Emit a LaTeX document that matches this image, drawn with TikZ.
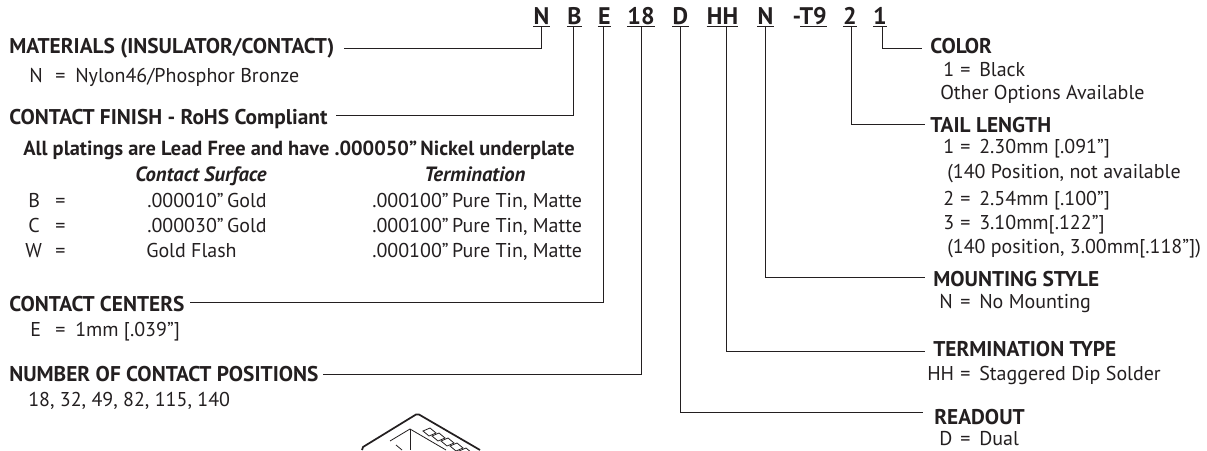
\documentclass[tikz,border=0pt]{standalone}
\usepackage{fontspec}
\setmainfont{PT Sans}
\usetikzlibrary{positioning}
\definecolor{inkgray}{HTML}{231F20}

\begin{document}
\begin{tikzpicture}[
    x=0.75pt, y=-0.75pt,
    every node/.style={text=inkgray, inner sep=0pt},
    partcode/.style={font=\fontsize{18}{20}\selectfont\bfseries, anchor=base, inner ysep=1.5pt},
    headlabel/.style={font=\fontsize{16}{18}\selectfont\bfseries, anchor=base west, text height=10.5pt, text depth=3pt},
    notelabel/.style={font=\fontsize{15.3}{17}\selectfont\bfseries, anchor=base west},
    bodylabel/.style={font=\fontsize{15}{17}\selectfont, anchor=base west},
    headital/.style={font=\fontsize{15.5}{17}\selectfont\bfseries\itshape, anchor=base west},
    leader/.style={draw=inkgray, line width=0.65pt},
    underbar/.style={draw=inkgray, line width=0.8pt}
]
\useasboundingbox (0,0) rectangle (1207,450);

% --- MACRO: KEY = VALUE ROW ---
\newcommand{\drawoption}[7]{
    \node[bodylabel] (#1k) at (#4,#2) {#3};
    \node[bodylabel] (#1e) at (#5,#2) {=};
    \node[bodylabel] (#1v) at (#6,#2) {#7};
}

% --- PART NUMBER ---
\node[partcode] (cmat) at (541.5,24) {N};
\node[partcode] (cfin) at (574.5,24) {B};
\node[partcode] (ccen) at (604.5,24) {E};
\node[partcode] (cpos) at (641,24) {18};
\node[partcode] (cread) at (680.5,24) {D};
\node[partcode] (cterm) at (722.5,24) {HH};
\node[partcode] (cmount) at (765.5,24) {N};
\node[partcode, anchor=base east] (cdash) at (827,24) {-T9};
\node[partcode] (ctail) at (850,24) {2};
\node[partcode] (ccol) at (880,24) {1};

\foreach \n in {cmat,cfin,ccen,cpos,cread,cterm,cmount,ctail,ccol}
    \draw[underbar] (\n.south west) -- (\n.south east);
\draw[underbar] ([xshift=-20pt]cdash.south east) -- (cdash.south east);

% --- LEFT COLUMN ---
\node[headlabel] (lmat) at (9,53) {MATERIALS (INSULATOR/CONTACT)};
\drawoption{omat}{82}{N}{29}{55}{75}{Nylon46/Phosphor Bronze}
\node[headlabel] (lfin) at (9,124) {CONTACT FINISH - RoHS Compliant};
\node[notelabel] (lnote) at (23,155) {All platings are Lead Free and have .000050”\,Nickel underplate};
\node[headital] (lsurf) at (135,181) {Contact Surface};
\node[headital] (lterm) at (424,181) {Termination};

\drawoption{ob}{207}{B}{28}{55}{147}{.000010”\,Gold}
\node[bodylabel] (obt) at (372,207) {.000100”\,Pure Tin, Matte};
\drawoption{oc}{232}{C}{28}{55}{147}{.000030”\,Gold}
\node[bodylabel] (oct) at (372,232) {.000100”\,Pure Tin, Matte};
\drawoption{ow}{257}{W}{25}{55}{146}{Gold Flash}
\node[bodylabel] (owt) at (372,257) {.000100”\,Pure Tin, Matte};

\node[headlabel] (lcen) at (9,311) {CONTACT CENTERS};
\drawoption{ocen}{336}{E}{30}{55}{75}{1mm [.039”]}
\node[headlabel] (lpos) at (9,381) {NUMBER OF CONTACT POSITIONS};
\node[bodylabel] (opos) at (28,406) {18, 32, 49, 82, 115, 140};

% --- RIGHT COLUMN ---
\node[headlabel] (rcol) at (930,53) {COLOR};
\drawoption{ocol}{76}{1}{943}{960}{979}{Black}
\node[bodylabel] (ocolx) at (940,99) {Other Options Available};
\node[headlabel] (rtail) at (930,132) {TAIL LENGTH};
\drawoption{ot}{153}{1}{943}{960}{979}{2.30mm [.091”]}
\node[bodylabel] (otna) at (947,178) {(140 Position, not available};
\drawoption{ou}{205}{2}{943}{960}{979}{2.54mm [.100”]}
\drawoption{ov}{229}{3}{943}{960}{979}{3.10mm[.122”]}
\node[bodylabel] (ovx) at (947,253) {(140 position, 3.00mm[.118”])};
\node[headlabel] (rmount) at (933,286) {MOUNTING STYLE};
\drawoption{omnt}{308}{N}{939}{960}{979}{No Mounting}
\node[headlabel] (rterm) at (933,356) {TERMINATION TYPE};
\drawoption{oter}{380}{HH}{927}{960}{979}{Staggered Dip Solder}
\node[headlabel] (rread) at (934,424) {READOUT};
\drawoption{ored}{445}{D}{939}{960}{979}{Dual}

% --- LEADERS ---
\draw[leader] (cmat.south) |- ([xshift=7pt]lmat.east);
\draw[leader] ([xshift=-1pt]cfin.south) |- ([xshift=6pt,yshift=3pt]lfin.east);
\draw[leader] ([xshift=-1pt]ccen.south) |- ([xshift=3.75pt,yshift=3pt]lcen.east);
\draw[leader] (cpos.south) |- ([xshift=3pt,yshift=1.5pt]lpos.east);
\draw[leader] (cread.south) |- ([xshift=-8.25pt,yshift=5.25pt]rread.west);
\draw[leader] ([xshift=2.6pt]cterm.south) |- ([xshift=-6pt]rterm.west);
\draw[leader] (cmount.south) |- ([xshift=-6pt,yshift=3pt]rmount.west);
\draw[leader] ([xshift=0.75pt]ctail.south) |- ([xshift=-3.75pt,yshift=2.25pt]rtail.west);
\draw[leader] ([xshift=1.5pt]ccol.south) |- ([xshift=-6pt]rcol.west);

% --- CONNECTOR SKETCH ---
\begin{scope}
    \clip (330,400) rectangle (510,450);
    \draw[line width=1.3pt, inkgray] (362,450) -- (363,447) -- (416,414.5) -- (419,414.5) -- (480,450);
    \draw[line width=0.6pt, inkgray] (390,441) -- (410,429) -- (446,450);
    \draw[line width=0.6pt, inkgray] (410,429) -- (410,450);
    \draw[line width=0.6pt, inkgray] (396,445) -- (402,450);
    \foreach \i in {0,1,2,3,4,5}
        \draw[line width=0.6pt, inkgray] ({423+\i*9},{431+\i*5}) -- ({430+\i*9},{428+\i*5}) -- ({436+\i*9},{433+\i*5}) -- ({429+\i*9},{436+\i*5}) -- cycle;
\end{scope}

\end{tikzpicture}
\end{document}
